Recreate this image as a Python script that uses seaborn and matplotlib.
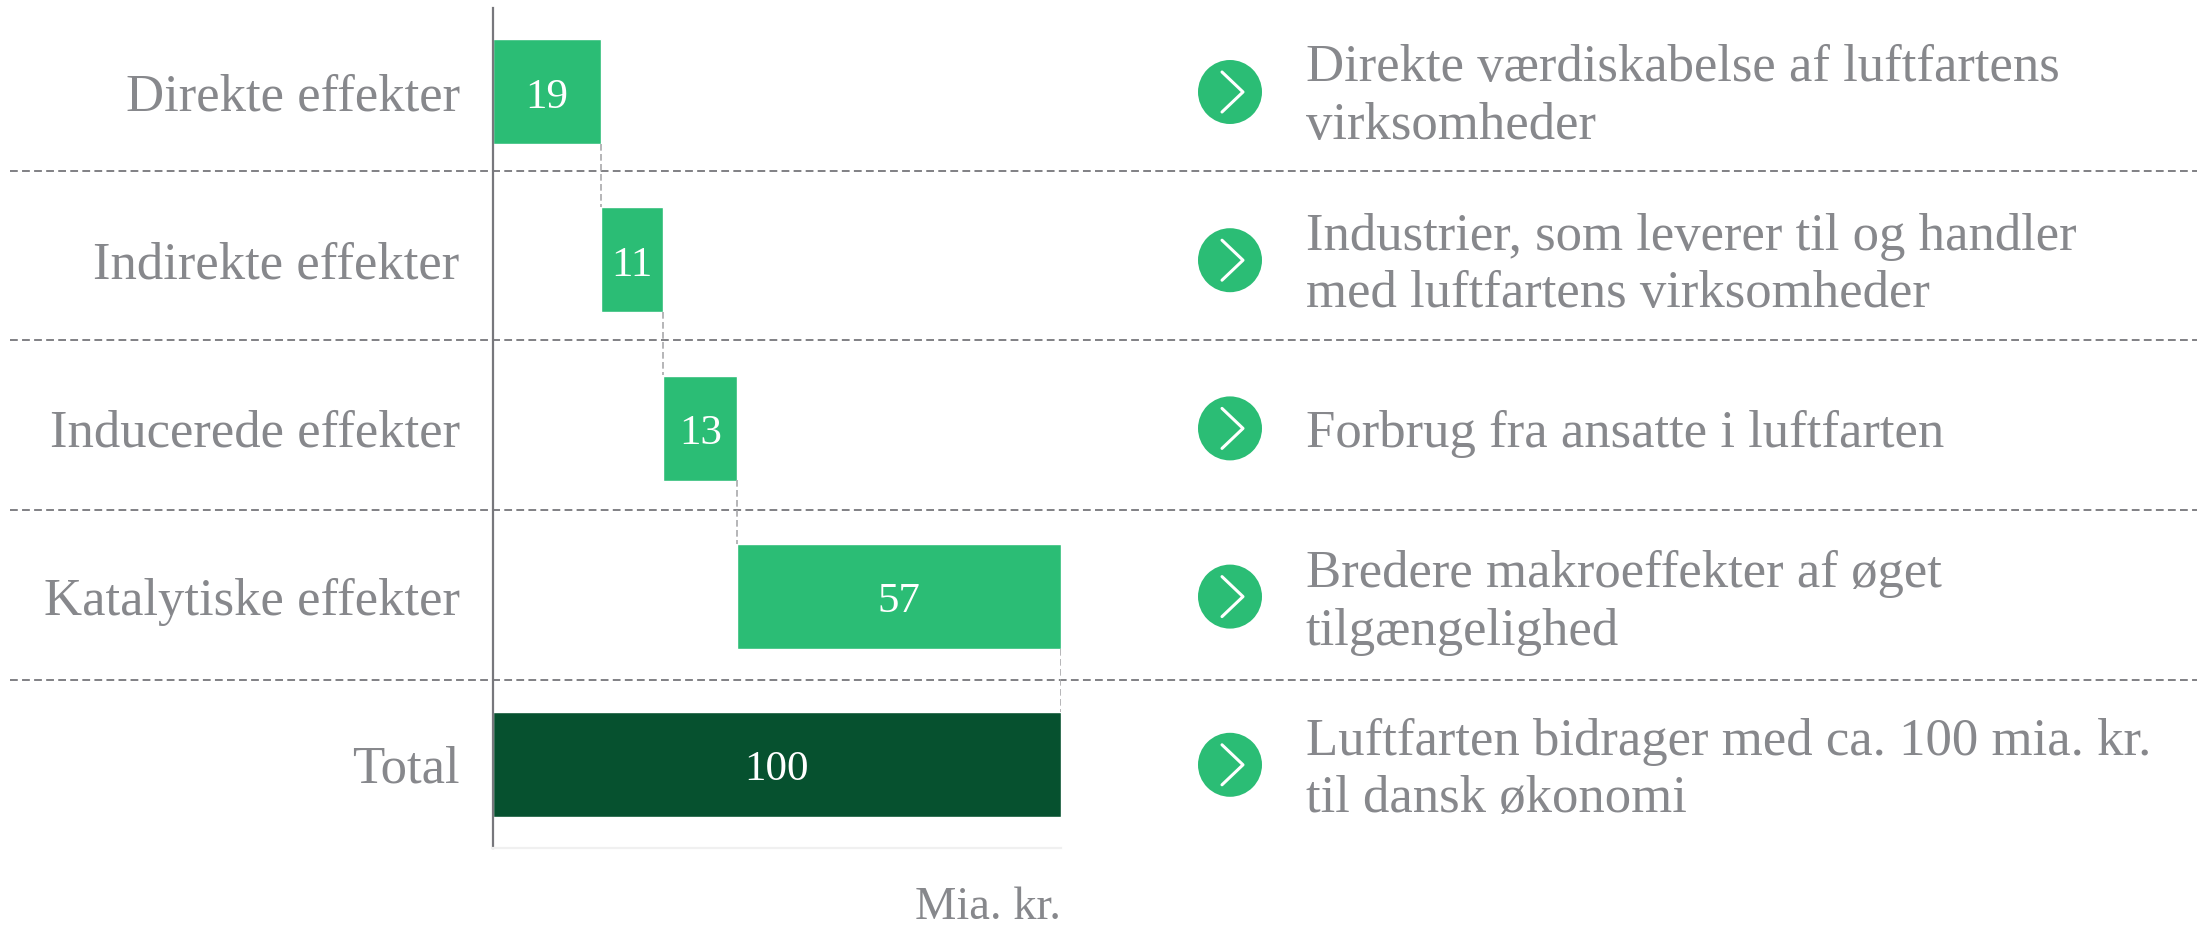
#!/usr/bin/env python3
import numpy as np
import pandas as pd
import matplotlib
matplotlib.use("Agg")
import matplotlib.pyplot as plt
from matplotlib.patches import Circle
import seaborn as sns

categories = ["Direkte effekter", "Indirekte effekter", "Inducerede effekter", "Katalytiske effekter", "Total"]
values = [19, 11, 13, 57, 100]
starts = [0, 19, 30, 43, 0]
notes = [
    ["Direkte værdiskabelse af luftfartens", "virksomheder"],
    ["Industrier, som leverer til og handler", "med luftfartens virksomheder"],
    ["Forbrug fra ansatte i luftfarten"],
    ["Bredere makroeffekter af øget", "tilgængelighed"],
    ["Luftfarten bidrager med ca. 100 mia. kr.", "til dansk økonomi"],
]
unit_label = "Mia. kr."

GREEN = "#2bbd75"
DARK = "#06512f"
GREY = "#87888c"
W, H = 2197, 930

sns.set_theme(style="white")
plt.rcParams["font.family"] = ["Liberation Serif", "DejaVu Serif"]

fig = plt.figure(figsize=(W / 100, H / 100), dpi=100, facecolor="white")

# background layer in pixel coordinates for everything outside the bars
bg = fig.add_axes([0, 0, 1, 1])
bg.set_xlim(0, W)
bg.set_ylim(H, 0)
bg.axis("off")

for y in [171, 340, 510, 680]:
    bg.plot([10, W], [y, y], color="#808084", lw=1.4, ls=(0, (4, 2.2)))

note_baselines = [[81, 139], [250, 307], [447], [587, 645], [755, 812]]
for row, (lines, baselines) in enumerate(zip(notes, note_baselines)):
    cy = 92 + row * 168.2
    bg.add_patch(Circle((1230, cy), 32, color=GREEN, lw=0))
    bg.plot([1222, 1243, 1222], [cy - 20, cy, cy + 20], color="white", lw=2.2)
    for line, base in zip(lines, baselines):
        bg.text(1306, base, line, color=GREY, fontsize=38, va="baseline", ha="left")

bg.text(1061, 919, unit_label, color=GREY, fontsize=33.5, va="baseline", ha="right")

ax = fig.add_axes([493 / W, 1 - 848 / H, 568 / W, 840 / H])
ax.patch.set_alpha(0)
df = pd.DataFrame({"category": categories, "value": values})
sns.barplot(data=df, y="category", x="value", hue="category", legend=False, ax=ax,
            palette=[GREEN, GREEN, GREEN, GREEN, DARK], width=0.625, saturation=1)

# move the bars to their waterfall offset
for container, start in zip(ax.containers, starts):
    for patch in container:
        patch.set_x(start)
    for label in ax.bar_label(container, label_type="center", color="white", fontsize=31):
        label.xyann = (0, -4)

ends = np.array(starts) + np.array(values)
for i in range(len(categories) - 1):
    ax.plot([ends[i], ends[i]], [i + 0.3125, i + 1 - 0.3125], color="#a9a9ac", lw=1.2, ls=(0, (4, 2)))

ax.set_xlim(0, 100)
ax.set_ylim(4.5, -0.5)
ax.set_xlabel("")
ax.set_ylabel("")
ax.set_xticks([])
ax.tick_params(axis="y", length=0, pad=24, labelsize=38, labelcolor=GREY)
sns.despine(ax=ax, top=True, right=True)
ax.spines["left"].set_color("#77777c")
ax.spines["left"].set_linewidth(1.6)
ax.spines["bottom"].set_color("#f0f0f0")
ax.spines["bottom"].set_linewidth(1.6)

fig.savefig("out.png", dpi=100)
